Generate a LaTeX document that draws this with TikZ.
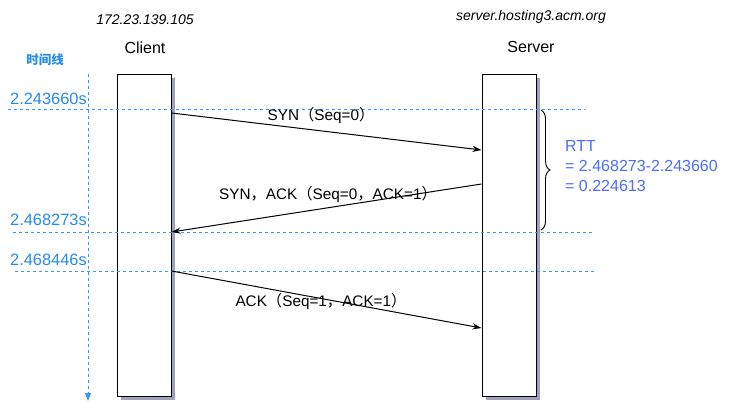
\documentclass[tikz,border=0pt]{standalone}
\usepackage{fontspec}
\setmainfont{Liberation Sans}
\newfontfamily\cjk{Noto Sans CJK SC}
\usetikzlibrary{arrows.meta,decorations.pathreplacing}
\definecolor{tlblue}{RGB}{38,140,232}
\definecolor{dashblue}{RGB}{51,153,255}
\definecolor{rttblue}{RGB}{77,110,255}
\definecolor{shadowgray}{RGB}{160,162,185}
\newcommand{\fwl}{{\cjk （}}
\newcommand{\fwr}{{\cjk ）}}
\newcommand{\fwc}{{\cjk ，}}
\begin{document}
\begin{tikzpicture}[x=1pt,y=-1pt,
  lifebox/.style={draw=black,line width=1pt,fill=white,minimum width=54pt,minimum height=322pt,inner sep=0pt},
  boxshadow/.style={fill=shadowgray},
  msg/.style={draw=black,line width=1pt,-{Stealth[length=9pt,width=6pt]}},
  guide/.style={draw=dashblue,dashed,dash pattern=on 3pt off 3pt,line width=0.8pt},
  tlabel/.style={text=tlblue,font=\fontsize{16.4}{19}\selectfont,anchor=west,inner sep=0pt},
  mlabel/.style={font=\fontsize{15.3}{18}\selectfont,inner sep=0pt},
  head/.style={font=\fontsize{16}{19}\selectfont,inner sep=0pt},
  ihead/.style={font=\fontsize{14}{16}\selectfont\itshape,inner sep=0pt}]
\fill[white] (0,0) rectangle (746,412);
\useasboundingbox (0,0) rectangle (746,412);

% headers
\node[ihead] (cip) at (145,20) {172.23.139.105};
\node[head] (cname) at (145,48) {Client};
\node[ihead] (sip) at (531,17) {server.hosting3.acm.org};
\node[head] (sname) at (531,47) {Server};

% shadows of lifeline boxes
\fill[boxshadow] (121,78) rectangle (175,400);
\fill[boxshadow] (486,78) rectangle (540,400);
% lifeline boxes
\node[lifebox] (client) at (144,235) {};
\node[lifebox] (server) at (509,235) {};

% timeline
\node[text=tlblue,font=\cjk\bfseries\fontsize{12.5}{14}\selectfont,inner sep=0pt] (tl) at (45,60) {时间线};
\coordinate (tltop) at (88,74);
\coordinate (tlbot) at (88,401);
\draw[guide,-{Triangle[length=8pt,width=6pt]},line width=1pt] (tltop) -- (tlbot);

% horizontal guides
\coordinate (g1a) at (8,109);   \coordinate (g1b) at (585,109);
\coordinate (g2a) at (13,232);  \coordinate (g2b) at (592,232);
\coordinate (g3a) at (15,271);  \coordinate (g3b) at (594,271);
\draw[guide] (g1a) -- (g1b);
\draw[guide] (g2a) -- (g2b);
\draw[guide] (g3a) -- (g3b);
\node[tlabel] (t1) at (10,99) {2.243660s};
\node[tlabel] (t2) at (10,220) {2.468273s};
\node[tlabel] (t3) at (10,260) {2.468446s};

% messages
\coordinate (m1s) at (client.east |- 0,113);
\coordinate (m1e) at (server.west |- 0,150);
\coordinate (m2s) at (server.west |- 0,184);
\coordinate (m2e) at (client.east |- 0,232);
\coordinate (m3s) at (client.east |- 0,271);
\coordinate (m3e) at (server.west |- 0,328);
\draw[msg] (m1s) -- (m1e);
\draw[msg] (m2s) -- (m2e);
\draw[msg] (m3s) -- (m3e);
\node[mlabel] (l1) at (321,116) {SYN\fwl Seq=0\fwr};
\node[mlabel] (l2) at (328,195) {SYN\fwc ACK\fwl Seq=0\fwc ACK=1\fwr};
\node[mlabel] (l3) at (321,302) {ACK\fwl Seq=1\fwc ACK=1\fwr};

% brace and RTT
\coordinate (b1) at (541,110);
\coordinate (b2) at (541,230);
\draw[line width=0.9pt,decorate,decoration={brace,amplitude=9pt}] (b1) -- (b2);
\node[text=rttblue,font=\fontsize{16}{20}\selectfont,align=left,anchor=west,inner sep=0pt] (rtt) at (565,166)
  {RTT\\= 2.468273-2.243660\\= 0.224613};
\end{tikzpicture}
\end{document}
